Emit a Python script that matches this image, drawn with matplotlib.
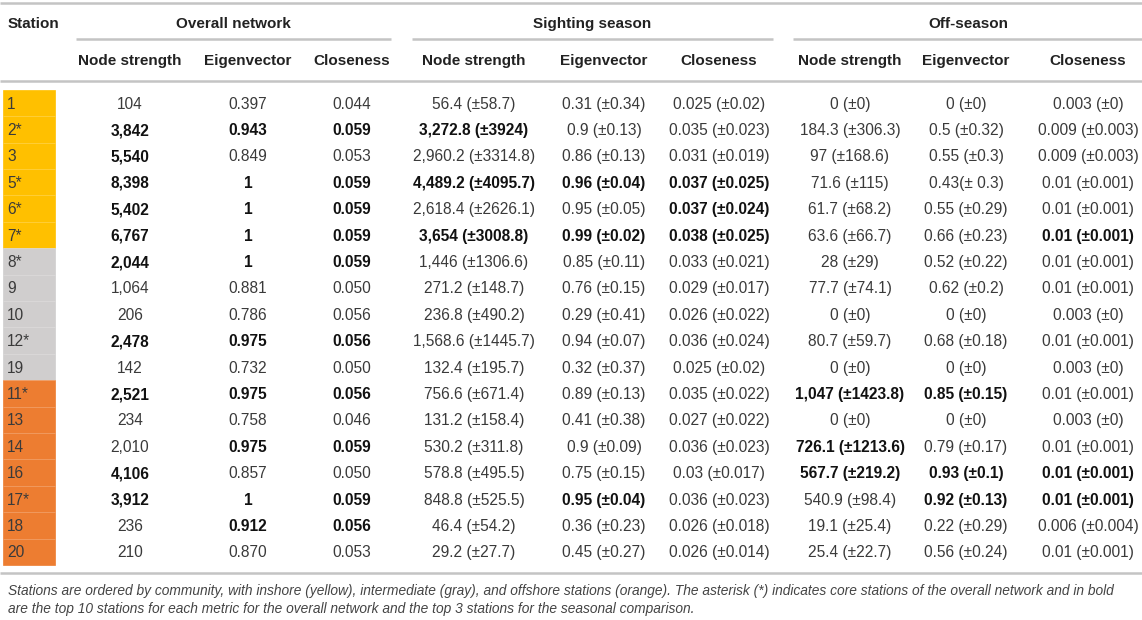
import matplotlib.pyplot as plt
from matplotlib.patches import Rectangle

plt.rcParams["font.family"] = ["Liberation Sans", "DejaVu Sans"]

# ---- table data ----
stations = ["1", "2*", "3", "5*", "6*", "7*", "8*", "9", "10", "12*", "19",
            "11*", "13", "14", "16", "17*", "18", "20"]
community = ["inshore"] * 6 + ["intermediate"] * 5 + ["offshore"] * 7

overall_strength = ["104", "3,842", "5,540", "8,398", "5,402", "6,767", "2,044",
                    "1,064", "206", "2,478", "142", "2,521", "234", "2,010",
                    "4,106", "3,912", "236", "210"]
overall_eigen = ["0.397", "0.943", "0.849", "1", "1", "1", "1", "0.881", "0.786",
                 "0.975", "0.732", "0.975", "0.758", "0.975", "0.857", "1",
                 "0.912", "0.870"]
overall_close = ["0.044", "0.059", "0.053", "0.059", "0.059", "0.059", "0.059",
                 "0.050", "0.056", "0.056", "0.050", "0.056", "0.046", "0.059",
                 "0.050", "0.059", "0.056", "0.053"]

sighting_strength = ["56.4 (±58.7)", "3,272.8 (±3924)", "2,960.2 (±3314.8)",
                     "4,489.2 (±4095.7)", "2,618.4 (±2626.1)", "3,654 (±3008.8)",
                     "1,446 (±1306.6)", "271.2 (±148.7)", "236.8 (±490.2)",
                     "1,568.6 (±1445.7)", "132.4 (±195.7)", "756.6 (±671.4)",
                     "131.2 (±158.4)", "530.2 (±311.8)", "578.8 (±495.5)",
                     "848.8 (±525.5)", "46.4 (±54.2)", "29.2 (±27.7)"]
sighting_eigen = ["0.31 (±0.34)", "0.9 (±0.13)", "0.86 (±0.13)", "0.96 (±0.04)",
                  "0.95 (±0.05)", "0.99 (±0.02)", "0.85 (±0.11)", "0.76 (±0.15)",
                  "0.29 (±0.41)", "0.94 (±0.07)", "0.32 (±0.37)", "0.89 (±0.13)",
                  "0.41 (±0.38)", "0.9 (±0.09)", "0.75 (±0.15)", "0.95 (±0.04)",
                  "0.36 (±0.23)", "0.45 (±0.27)"]
sighting_close = ["0.025 (±0.02)", "0.035 (±0.023)", "0.031 (±0.019)",
                  "0.037 (±0.025)", "0.037 (±0.024)", "0.038 (±0.025)",
                  "0.033 (±0.021)", "0.029 (±0.017)", "0.026 (±0.022)",
                  "0.036 (±0.024)", "0.025 (±0.02)", "0.035 (±0.022)",
                  "0.027 (±0.022)", "0.036 (±0.023)", "0.03 (±0.017)",
                  "0.036 (±0.023)", "0.026 (±0.018)", "0.026 (±0.014)"]

off_strength = ["0 (±0)", "184.3 (±306.3)", "97 (±168.6)", "71.6 (±115)",
                "61.7 (±68.2)", "63.6 (±66.7)", "28 (±29)", "77.7 (±74.1)",
                "0 (±0)", "80.7 (±59.7)", "0 (±0)", "1,047 (±1423.8)", "0 (±0)",
                "726.1 (±1213.6)", "567.7 (±219.2)", "540.9 (±98.4)",
                "19.1 (±25.4)", "25.4 (±22.7)"]
off_eigen = ["0 (±0)", "0.5 (±0.32)", "0.55 (±0.3)", "0.43(± 0.3)", "0.55 (±0.29)",
             "0.66 (±0.23)", "0.52 (±0.22)", "0.62 (±0.2)", "0 (±0)",
             "0.68 (±0.18)", "0 (±0)", "0.85 (±0.15)", "0 (±0)", "0.79 (±0.17)",
             "0.93 (±0.1)", "0.92 (±0.13)", "0.22 (±0.29)", "0.56 (±0.24)"]
off_close = ["0.003 (±0)", "0.009 (±0.003)", "0.009 (±0.003)", "0.01 (±0.001)",
             "0.01 (±0.001)", "0.01 (±0.001)", "0.01 (±0.001)", "0.01 (±0.001)",
             "0.003 (±0)", "0.01 (±0.001)", "0.003 (±0)", "0.01 (±0.001)",
             "0.003 (±0)", "0.01 (±0.001)", "0.01 (±0.001)", "0.01 (±0.001)",
             "0.006 (±0.004)", "0.01 (±0.001)"]

# stations shown in bold for each column
bold_overall_strength = ["2*", "3", "5*", "6*", "7*", "8*", "12*", "11*", "16", "17*"]
bold_overall_eigen = ["2*", "5*", "6*", "7*", "8*", "12*", "11*", "14", "17*", "18"]
bold_overall_close = ["2*", "5*", "6*", "7*", "8*", "12*", "11*", "14", "17*", "18"]
bold_sighting_strength = ["2*", "5*", "7*"]
bold_sighting_eigen = ["5*", "7*", "17*"]
bold_sighting_close = ["5*", "6*", "7*"]
bold_off_strength = ["11*", "14", "16"]
bold_off_eigen = ["11*", "16", "17*"]
bold_off_close = ["7*", "16", "17*"]

groups = ["Overall network", "Sighting season", "Off-season"]
metrics = ["Node strength", "Eigenvector", "Closeness"]

footnote = ("Stations are ordered by community, with inshore (yellow), intermediate "
            "(gray), and offshore stations (orange). The asterisk (*) indicates core "
            "stations of the overall network and in bold\nare the top 10 stations for "
            "each metric for the overall network and the top 3 stations for the "
            "seasonal comparison.")

# ---- layout (pixels) ----
W, H = 1142, 620
community_colors = {"inshore": "#FFC000", "intermediate": "#D0CECE",
                    "offshore": "#ED7D31"}
rule_color = "#C4C4C4"
text_color = "#3A3A3A"
col_x = [130, 248, 352, 474, 604, 719, 850, 966, 1088]
group_x = [233, 592, 968]
group_spans = [(76, 391), (412, 773), (793, 1142)]
row0_y, row_h = 103, 26.4
cap_half = 5.6  # half cap height, so baselines put caps centred on the row

columns = [
    (overall_strength, bold_overall_strength),
    (overall_eigen, bold_overall_eigen),
    (overall_close, bold_overall_close),
    (sighting_strength, bold_sighting_strength),
    (sighting_eigen, bold_sighting_eigen),
    (sighting_close, bold_sighting_close),
    (off_strength, bold_off_strength),
    (off_eigen, bold_off_eigen),
    (off_close, bold_off_close),
]

fig = plt.figure(figsize=(W / 100, H / 100), dpi=100)
ax = fig.add_axes([0, 0, 1, 1])
ax.set_xlim(0, W)
ax.set_ylim(H, 0)
ax.set_axis_off()

# rules
for y in [3, 81, 573]:
    ax.plot([0, W], [y, y], color=rule_color, lw=1.8, solid_capstyle="butt")
for x0, x1 in group_spans:
    ax.plot([x0, x1], [39, 39], color=rule_color, lw=1.8, solid_capstyle="butt")

# headers
ax.text(8, 22 + cap_half, "Station", ha="left", va="baseline", fontsize=11,
        fontweight="bold", color="#222222")
for gx, g in zip(group_x, groups):
    ax.text(gx, 22 + cap_half, g, ha="center", va="baseline", fontsize=11,
            fontweight="bold", color="#222222")
for i, cx in enumerate(col_x):
    ax.text(cx, 59 + cap_half, metrics[i % 3], ha="center", va="baseline",
            fontsize=11, fontweight="bold", color="#222222")

# station column with community colours
for r, (st, com) in enumerate(zip(stations, community)):
    yc = row0_y + r * row_h
    ax.add_patch(Rectangle((3, yc - row_h / 2), 52, row_h,
                           facecolor=community_colors[com],
                           edgecolor=community_colors[com], lw=0.5))
    if r > 0:
        ax.plot([3, 55], [yc - row_h / 2] * 2, color="white", lw=0.4, alpha=0.35)
    ax.text(7, yc + cap_half, st, ha="left", va="baseline", fontsize=11.2,
            color=text_color)

# data cells
for cx, (values, bold_list) in zip(col_x, columns):
    for r, (st, val) in enumerate(zip(stations, values)):
        yc = row0_y + r * row_h
        is_bold = st in bold_list
        ax.text(cx, yc + cap_half, val, ha="center", va="baseline", fontsize=11.2,
                fontweight="bold" if is_bold else "normal",
                color="#111111" if is_bold else text_color)

# footnote
ax.text(8, 600, footnote, ha="left", va="center", fontsize=9.9,
        style="italic", color="#444444", linespacing=1.35)

fig.savefig("out.png", dpi=100)
